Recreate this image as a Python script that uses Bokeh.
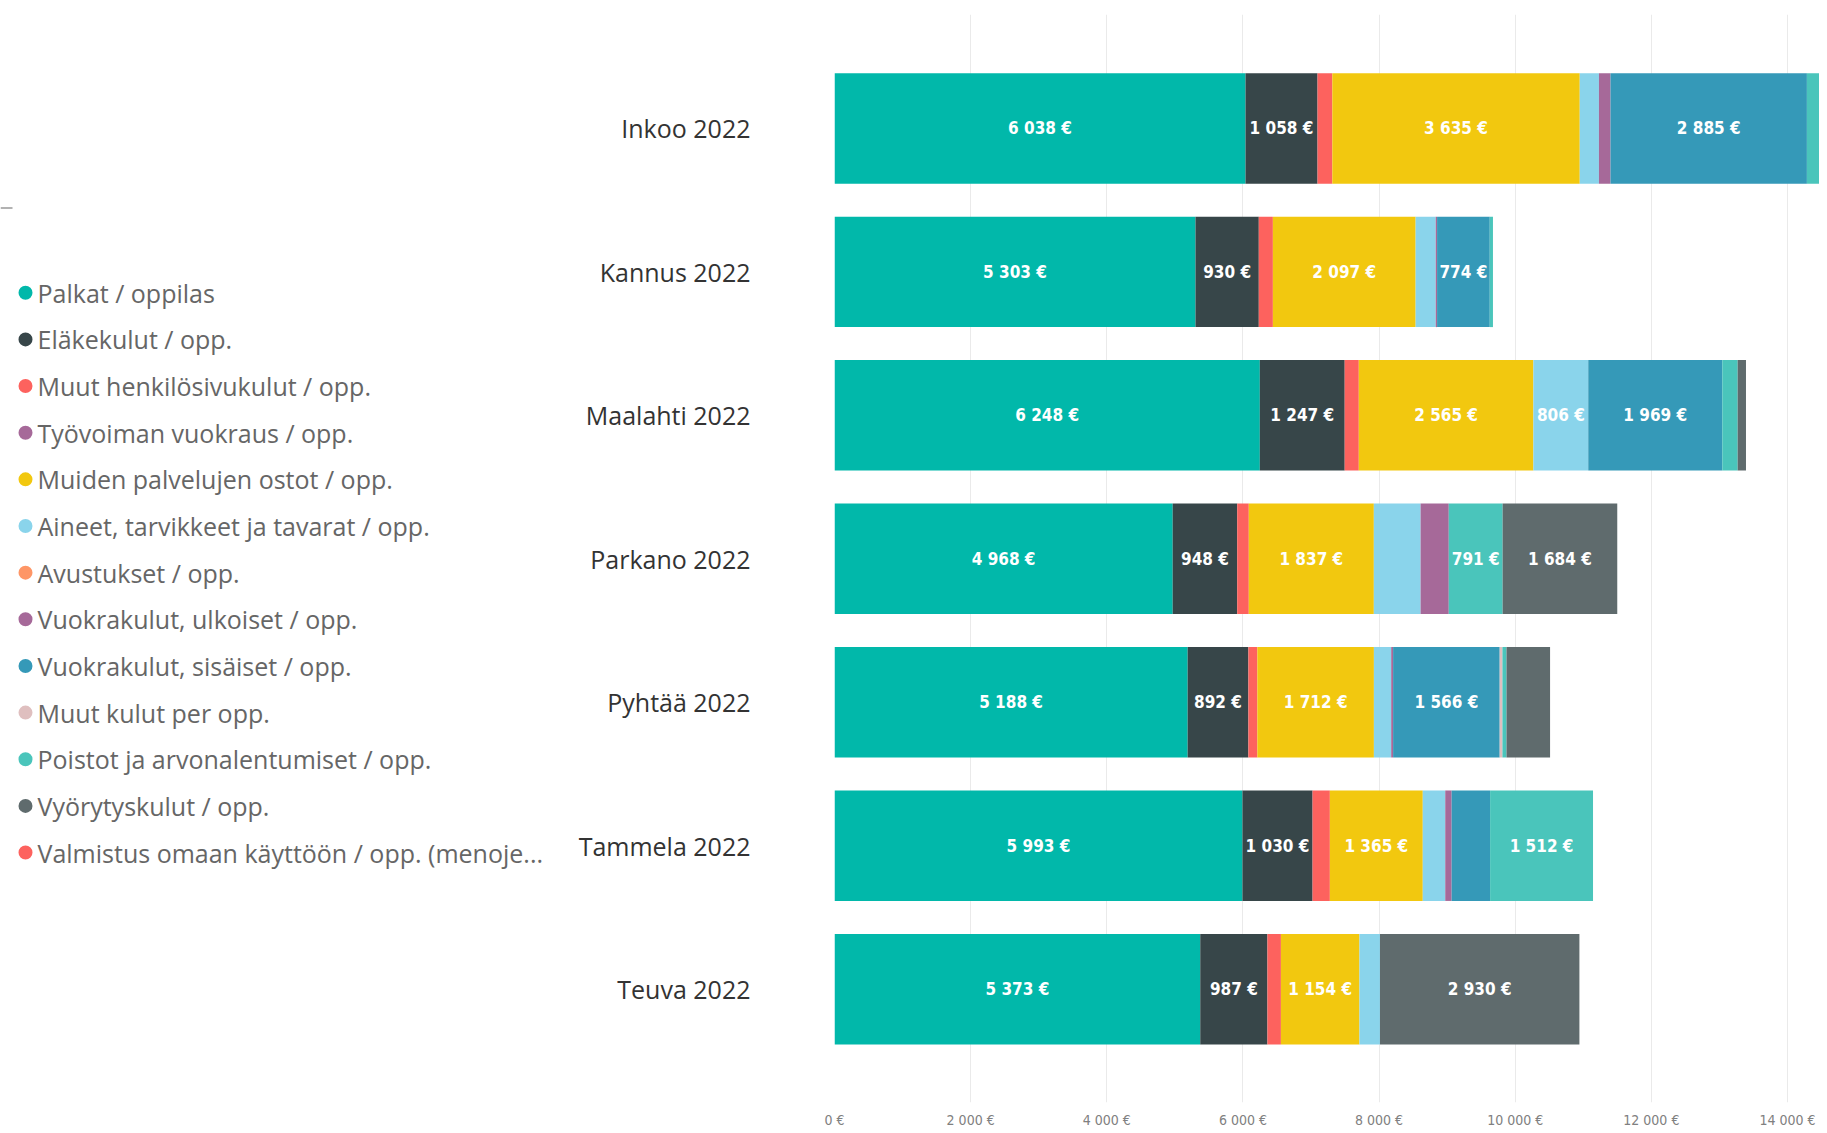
import numpy as np
from bokeh.plotting import figure
from bokeh.models import ColumnDataSource, Range1d, FixedTicker
from bokeh.layouts import row
from bokeh.core.properties import value
from bokeh.embed import file_html
from bokeh.resources import INLINE

# ---------------- data ----------------
categories = ["Inkoo 2022", "Kannus 2022", "Maalahti 2022", "Parkano 2022",
              "Pyhtää 2022", "Tammela 2022", "Teuva 2022"]

series_names = [
    "Palkat / oppilas",
    "Eläkekulut / opp.",
    "Muut henkilösivukulut / opp.",
    "Työvoiman vuokraus / opp.",
    "Muiden palvelujen ostot / opp.",
    "Aineet, tarvikkeet ja tavarat / opp.",
    "Avustukset / opp.",
    "Vuokrakulut, ulkoiset / opp.",
    "Vuokrakulut, sisäiset / opp.",
    "Muut kulut per opp.",
    "Poistot ja arvonalentumiset / opp.",
    "Vyörytyskulut / opp.",
    "Valmistus omaan käyttöön / opp. (menoje...",
]
series_colors = ["#01B8AA", "#374649", "#FD625E", "#A66999", "#F2C80F", "#8AD4EB",
                 "#FE9666", "#A66999", "#3599B8", "#DFBFBF", "#4AC5BB", "#5F6B6D", "#FD625E"]

palkat       = [6038, 5303, 6248, 4968, 5188, 5993, 5373]
elakekulut   = [1058,  930, 1247,  948,  892, 1030,  987]
muut_henk    = [ 217,  207,  207,  170,  132,  254,  198]
tyovoima     = [   0,    0,    0,    0,    0,    0,    0]
muiden_palv  = [3635, 2097, 2565, 1837, 1712, 1365, 1154]
aineet       = [ 282,  295,  806,  687,  254,  330,  301]
avustukset   = [   0,    0,    0,    0,    0,    0,    0]
vuokra_ulk   = [ 170,   20,    0,  414,   28,   94,    0]
vuokra_sis   = [2885,  774, 1969,    0, 1566,  565,    0]
muut_kulut   = [   0,    0,    0,    0,   40,    0,    0]
poistot      = [ 207,   47,  226,  791,   60, 1512,    0]
vyorytys     = [   0,    0,  122, 1684,  640,    0, 2930]
valmistus    = [   0,    0,    0,    0,    0,    0,    0]

series_values = [palkat, elakekulut, muut_henk, tyovoima, muiden_palv, aineet, avustukset,
                 vuokra_ulk, vuokra_sis, muut_kulut, poistot, vyorytys, valmistus]

x_ticks = [0, 2000, 4000, 6000, 8000, 10000, 12000, 14000]
x_tick_labels = ["0 €", "2 000 €", "4 000 €", "6 000 €", "8 000 €", "10 000 €", "12 000 €", "14 000 €"]

LABEL_MIN = 700  # segments narrower than this carry no data label


def fmt(v):
    return f"{v:,}".replace(",", " ") + " €"


# ---------------- layout constants ----------------
H = 1130
LEG_W = 560
CH_W = 1819 - LEG_W

# ---------------- legend figure ----------------
leg = figure(width=LEG_W, height=H, x_range=Range1d(0, LEG_W), y_range=Range1d(H, 0),
             output_backend="svg", toolbar_location=None, min_border=0, title=None,
             x_axis_location=None, y_axis_location=None)
leg.grid.visible = False
leg.outline_line_color = None

ly = [289 + i * 48.45 for i in range(len(series_names))]
leg.scatter(x=[25] * len(series_names), y=ly, size=14, color=series_colors, line_color=None)
leg.text(x=[37] * len(series_names), y=ly, text=series_names,
         text_font=value("Open Sans"), text_font_size="25px", text_color="#666666",
         text_align="left", text_baseline="middle")
leg.line(x=[0, 12], y=[201, 201], line_color="#999999", line_width=1.5)

# ---------------- chart figure ----------------
ypos = list(range(len(categories)))
keys = [f"s{i}" for i in range(len(series_names))]
data = {"y": ypos}
for k, vals in zip(keys, series_values):
    data[k] = vals
source = ColumnDataSource(data)

p = figure(width=CH_W, height=H, title=None,
           y_range=Range1d(6.79, -0.794),
           x_range=Range1d(0, 14470),
           output_backend="svg", toolbar_location=None,
           min_border_left=274, min_border_right=0, min_border_top=14,
           min_border_bottom=H - 1110)
p.outline_line_color = None
p.ygrid.grid_line_color = None
p.xgrid.grid_line_color = "#EAEAEA"
p.xgrid.grid_line_width = 1

p.hbar_stack(keys, y="y", height=0.77, color=series_colors, line_color=None, source=source)

# data labels
lx, lyc, lt = [], [], []
cum = np.zeros(len(categories))
for vals in series_values:
    v = np.array(vals, dtype=float)
    for j in range(len(categories)):
        if v[j] >= LABEL_MIN:
            lx.append(cum[j] + v[j] / 2)
            lyc.append(ypos[j])
            lt.append(fmt(int(v[j])))
    cum += v
p.text(x=lx, y=lyc, text=lt, text_font=value("DejaVu Sans Condensed"), text_font_style="bold",
       text_font_size="17px", text_color="white", text_align="center", text_baseline="middle")

# axes
p.xaxis.ticker = FixedTicker(ticks=x_ticks)
p.xaxis.major_label_overrides = dict(zip(x_ticks, x_tick_labels))
p.xaxis.axis_line_color = None
p.xaxis.major_tick_line_color = None
p.xaxis.minor_tick_line_color = None
p.xaxis.major_label_text_font = "DejaVu Sans Condensed"
p.xaxis.major_label_text_font_size = "14px"
p.xaxis.major_label_text_color = "#808080"
p.xaxis.major_label_standoff = 3

p.yaxis.ticker = FixedTicker(ticks=ypos)
p.yaxis.major_label_overrides = dict(zip(ypos, categories))
p.yaxis.axis_line_color = None
p.yaxis.major_tick_line_color = None
p.yaxis.minor_tick_line_color = None
p.yaxis.major_label_text_font = "Open Sans"
p.yaxis.major_label_text_font_size = "25px"
p.yaxis.major_label_text_color = "#333333"
p.yaxis.major_label_standoff = 78

layout = row(leg, p)
open("out.html", "w").write(file_html(layout, INLINE))
